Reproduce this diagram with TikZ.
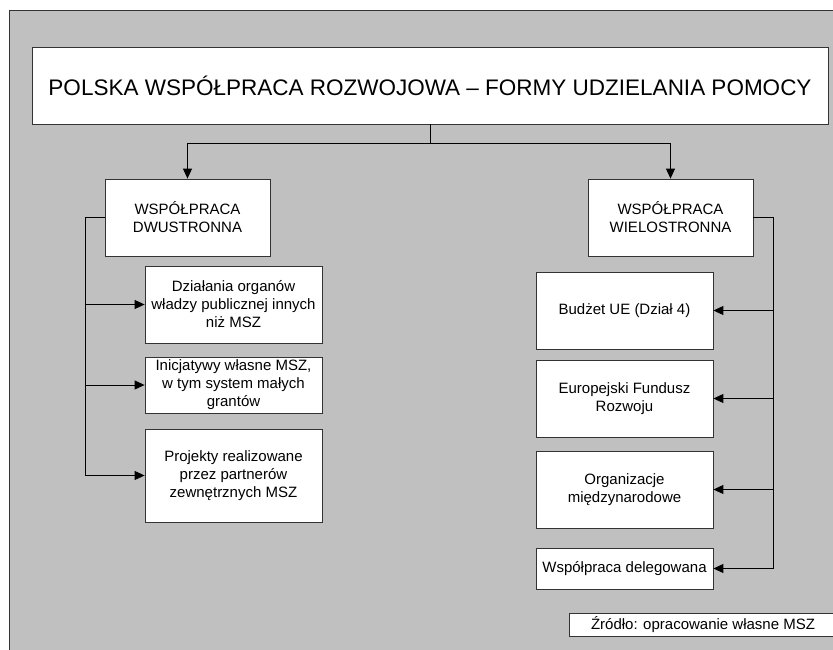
\documentclass[tikz,border=0pt]{standalone}
\usepackage{fontspec}
\setmainfont{Liberation Sans}
\usetikzlibrary{arrows.meta}
\definecolor{bggray}{HTML}{C0C0C0}
\definecolor{boxline}{HTML}{333333}
\begin{document}
\begin{tikzpicture}[x=1pt,y=-1pt,
  box/.style={draw=boxline,line width=0.8pt,fill=white,rectangle,inner sep=0pt,align=center,
    font=\fontsize{15}{18}\selectfont},
  conn/.style={draw=black,line width=0.9pt},
  arr/.style={conn,-{Triangle[length=10pt,width=9pt]}}]
\useasboundingbox (0,0) rectangle (833,650);
\clip (0,0) rectangle (833,650);
\fill[white] (0,0) rectangle (833,650);
\fill[bggray] (9,10) rectangle (845,660);
\draw[boxline,line width=0.9pt] (9,660) -- (9,10) -- (845,10);

\node[box,minimum width=796pt,minimum height=77pt,font=\fontsize{22.5}{26}\selectfont] (T) at (430,85.5)
  {POLSKA WSPÓŁPRACA ROZWOJOWA – FORMY UDZIELANIA POMOCY};

\node[box,minimum width=165pt,minimum height=77pt] (L) at (187.5,217.5) {WSPÓŁPRACA\\DWUSTRONNA};
\node[box,minimum width=165pt,minimum height=77pt] (R) at (670.5,217.5) {WSPÓŁPRACA\\WIELOSTRONNA};

\node[box,minimum width=177pt,minimum height=77pt] (B1) at (233.5,304.5) {Działania organów\\władzy publicznej innych\\niż MSZ};
\node[box,minimum width=177pt,minimum height=56pt] (B2) at (233.5,385) {Inicjatywy własne MSZ,\\w tym system małych\\grantów};
\node[box,minimum width=177pt,minimum height=93pt] (B3) at (233.5,475.5) {Projekty realizowane\\przez partnerów\\zewnętrznych MSZ};

\node[box,minimum width=177pt,minimum height=77pt] (C1) at (624.5,310.5) {Budżet UE (Dział 4)};
\node[box,minimum width=177pt,minimum height=77pt] (C2) at (624.5,398.5) {Europejski Fundusz\\Rozwoju};
\node[box,minimum width=177pt,minimum height=77pt] (C3) at (624.5,489.5) {Organizacje\\międzynarodowe};
\node[box,minimum width=177pt,minimum height=41pt] (C4) at (624.5,568.5) {Współpraca delegowana};

\node[box,minimum width=268pt,minimum height=23pt] (S) at (703,624.5) {Źródło: opracowanie własne MSZ};

\coordinate (J) at (430,143);
\coordinate (LX) at (85,0);
\coordinate (RX) at (773,0);

\draw[conn] (T.south) -- (J);
\draw[arr] (J) -| (L.north);
\draw[arr] (J) -| (R.north);

\draw[conn] (L.west) -- (L.west -| LX) -- (B3.west -| LX);
\draw[arr] (B1.west -| LX) -- (B1.west);
\draw[arr] (B2.west -| LX) -- (B2.west);
\draw[arr] (B3.west -| LX) -- (B3.west);

\draw[conn] (R.east) -- (R.east -| RX) -- (C4.east -| RX);
\draw[arr] (C1.east -| RX) -- (C1.east);
\draw[arr] (C2.east -| RX) -- (C2.east);
\draw[arr] (C3.east -| RX) -- (C3.east);
\draw[arr] (C4.east -| RX) -- (C4.east);
\end{tikzpicture}
\end{document}
